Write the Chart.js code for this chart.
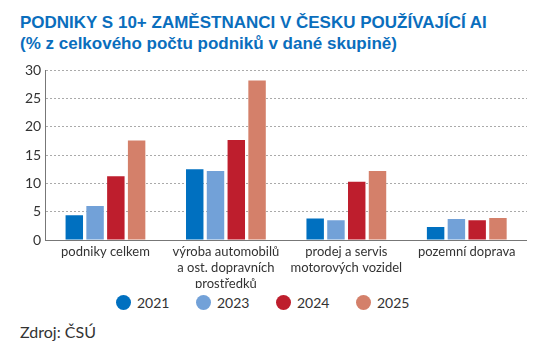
<!DOCTYPE html>
<html>
<head>
<meta charset="utf-8">
<script src="https://cdn.jsdelivr.net/npm/chart.js@4/dist/chart.umd.min.js"></script>
<style>
  body { margin: 0; background: #fff; width: 539px; height: 350px; overflow: hidden; position: relative; }
  #title { position: absolute; left: 20px; top: 12px; font-family: "Liberation Sans Narrow", "Liberation Sans", sans-serif; font-weight: bold; color: #0a6ebd; font-size: 17px; line-height: 21px; }
  #box { position: absolute; left: 0; top: 58px; width: 527px; height: 230px; }
  #legend { position: absolute; left: 116px; top: 294px; display: flex; font-family: Lato, sans-serif; font-size: 14px; color: #333; }
  #legend .item { width: 80px; display: flex; align-items: center; }
  #legend .dot { width: 15px; height: 15px; border-radius: 50%; margin-right: 6px; }
  #source { position: absolute; left: 20px; top: 322px; font-family: Lato, sans-serif; font-size: 16px; color: #333; }
</style>
</head>
<body>
<div id="title">PODNIKY S 10+ ZAMĚSTNANCI V ČESKU POUŽÍVAJÍCÍ AI<br>(% z celkového počtu podniků v dané skupině)</div>
<div id="box"><canvas id="myChart"></canvas></div>
<div id="legend"></div>
<div id="source">Zdroj: ČSÚ</div>
<script>
// categories and values per year
const categories = [
    ['podniky celkem'],
    ['výroba automobilů', 'a ost. dopravních', 'prostředků'],
    ['prodej a servis', 'motorových vozidel'],
    ['pozemní doprava']
];
const years = ['2021', '2023', '2024', '2025'];
const v2021 = [4.4, 12.5, 3.8, 2.3];
const v2023 = [6.0, 12.2, 3.5, 3.7];
const v2024 = [11.3, 17.7, 10.3, 3.5];
const v2025 = [17.6, 28.2, 12.2, 3.9];
const colors = ['#0070c0', '#72a1d8', '#be1e2d', '#d4806a'];

const series = [v2021, v2023, v2024, v2025];
const ctx = document.getElementById('myChart').getContext('2d');
const myChart = new Chart(ctx, {
    type: 'bar',
    data: {
        labels: categories,
        datasets: series.map(function(vals, i) {
            return {
                label: years[i],
                data: vals,
                backgroundColor: colors[i],
                barPercentage: 0.84,
                categoryPercentage: 0.69
            };
        })
    },
    options: {
        responsive: true,
        maintainAspectRatio: false,
        animation: false,
        layout: { padding: { left: 21, right: 0, top: 6, bottom: 0 } },
        plugins: {
            legend: { display: false },
            tooltip: { enabled: false }
        },
        scales: {
            x: {
                grid: { display: false },
                border: { color: '#777', width: 1 },
                ticks: { autoSkip: false, color: '#333', font: { family: 'Lato', size: 13, lineHeight: 1.23 }, maxRotation: 0, minRotation: 0, padding: -4 }
            },
            y: {
                min: 0,
                max: 30,
                ticks: { stepSize: 5, color: '#333', font: { family: 'Lato', size: 14 }, padding: 4 },
                grid: { color: '#aaa', drawTicks: false },
                border: { color: '#777', width: 1, dash: [2, 2] }
            }
        }
    }
});

// html legend from the chart's datasets
const legend = document.getElementById('legend');
myChart.data.datasets.forEach(function(ds) {
    const item = document.createElement('div');
    item.className = 'item';
    item.innerHTML = '<span class="dot" style="background:' + ds.backgroundColor + '"></span>' + ds.label;
    legend.appendChild(item);
});
</script>
</body>
</html>
